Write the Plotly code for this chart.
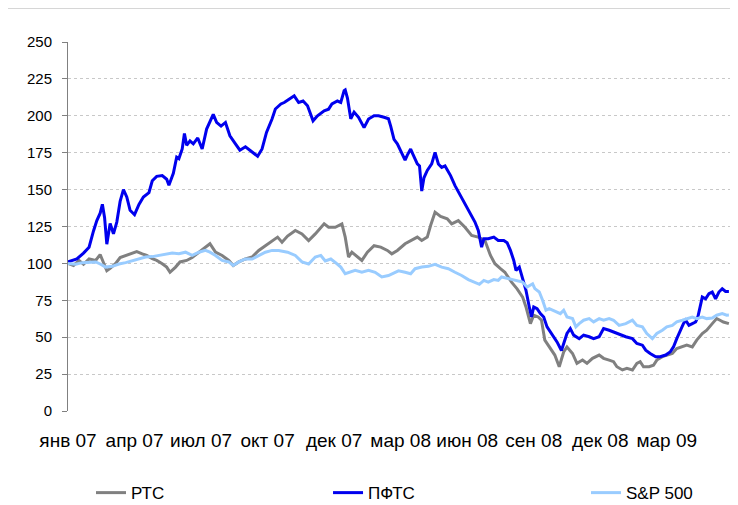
import plotly.graph_objects as go

# Trading-day index (category position) and indexed values (start = 100)
tick_days = [0, 60, 120, 180, 240, 300, 360, 420, 480, 540]
tick_labels = ["янв 07", "апр 07", "июл 07", "окт 07", "дек 07",
               "мар 08", "июн 08", "сен 08", "дек 08", "мар 09"]

pfts_days = [0, 8, 14, 19, 23, 26, 29, 31, 33, 35, 38, 41, 44, 47, 50, 53, 56, 60, 64, 68,
             73, 76, 80, 85, 89, 91, 95, 98, 100, 103, 105, 107, 110, 113, 117, 121, 125, 131,
             134, 138, 142, 146, 151, 155, 160, 164, 169, 171, 175, 179, 184, 187, 192, 195,
             199, 204, 208, 212, 216, 221, 225, 231, 235, 238, 243, 246, 249, 250, 252, 255,
             258, 262, 267, 271, 276, 280, 285, 289, 291, 294, 297, 300, 304, 306, 309, 311,
             315, 317, 319, 321, 324, 328, 331, 334, 337, 340, 345, 349, 354, 357, 360, 364,
             367, 370, 373, 375, 379, 384, 388, 393, 396, 399, 402, 404, 407, 410, 413, 416,
             418, 420, 423, 426, 429, 432, 437, 441, 445, 447, 450, 453, 456, 461, 465, 470,
             474, 479, 483, 488, 492, 497, 503, 509, 513, 518, 521, 525, 530, 534, 539, 543,
             546, 549, 552, 555, 557, 560, 563, 566, 568, 570, 572, 575, 578, 581, 584, 587,
             590, 593, 596]
pfts_vals = [101, 103, 107, 111, 122, 129, 134, 140, 131, 113, 127, 120, 128, 142, 150, 145,
             136, 133, 140, 145, 148, 156, 159, 159.5, 157, 153, 161, 172, 171, 177.5, 188,
             180, 183, 181, 185, 177.5, 191, 201, 195.5, 193, 195.5, 186.5, 181, 176.7, 179,
             176.7, 173.4, 172.6, 177.5, 188.7, 197.8, 204.6, 208, 209, 211, 213.5, 209, 210,
             206.8, 196.6, 200, 203.4, 204.5, 208, 210, 209, 217, 217.5, 212, 198, 202.5, 199,
             192, 197.8, 200, 200, 199, 198, 193, 184, 181, 176.7, 170, 173.4, 177.5, 174,
             167.4, 166, 149, 158, 163, 167.4, 175.2, 167.4, 165, 166, 159.5, 152.7, 146,
             141.4, 138, 132.4, 128, 122.3, 111, 116.7, 116.7, 117.8, 115.5, 115.5, 114,
             108.8, 102, 95.3, 97.5, 89.7, 81.8, 70.5, 63.7, 70.5, 69.4, 66, 63.7, 57, 51.4,
             46.8, 41, 45.7, 52.5, 55.8, 51.4, 49, 51.4, 50.3, 49, 50.3, 55.8, 54.7, 53.5,
             52.4, 50.3, 49, 45.7, 44.6, 41.2, 39, 36.8, 36.8, 37.9, 40, 43.4, 49, 54.7, 59.2,
             61.5, 58, 59.2, 60.3, 63.7, 70.5, 77.2, 76, 79.5, 80.6, 76, 80.6, 82.8, 81, 81]

rts_days = [0, 5, 10, 14, 19, 25, 29, 32, 35, 38, 43, 47, 52, 56, 62, 67, 71, 76, 80, 85, 89,
            92, 95, 97, 101, 107, 112, 118, 124, 128, 133, 139, 145, 149, 154, 160, 166, 172,
            178, 184, 189, 193, 198, 205, 211, 217, 223, 231, 235, 241, 247, 250, 253, 256,
            261, 265, 270, 276, 282, 288, 292, 297, 304, 310, 315, 319, 324, 327, 331, 336,
            342, 346, 352, 358, 364, 370, 376, 381, 385, 390, 394, 400, 405, 410, 413, 417,
            420, 424, 427, 430, 435, 439, 443, 447, 450, 455, 459, 464, 468, 473, 479, 483,
            488, 492, 495, 500, 504, 509, 513, 516, 519, 524, 528, 531, 536, 540, 545, 549,
            554, 558, 563, 567, 572, 576, 581, 585, 588, 591, 596]
rts_vals = [100, 98.6, 102, 99.4, 103, 102, 106, 100.5, 95, 96.6, 100, 104, 105.4, 106.5, 108,
            106.5, 105.4, 103.2, 102, 99.8, 97.5, 94, 96, 97.5, 101, 102, 104, 107.6, 111,
            113.3, 107.6, 105.4, 102, 98.6, 101, 103, 104.3, 108.8, 112, 115.5, 117.8, 114.4,
            118.5, 122.3, 120, 115.5, 120, 126.8, 124.5, 124.5, 126.8, 117.8, 104.3, 107.6,
            104.3, 102, 107.6, 112, 111, 108.8, 106.5, 108.8, 113.3, 115.5, 117.8, 115.5,
            117.8, 125.7, 134.7, 131.8, 130.2, 126.8, 129, 124.5, 119, 117.8, 115.5, 105.4,
            99.8, 96.4, 94, 87.3, 82.8, 77.2, 70.5, 59.2, 64.9, 63.7, 61.5, 48, 42.3, 37.9,
            30, 40, 43.4, 39, 32.3, 34.5, 32.3, 35.7, 37.9, 35.7, 34.5, 33.4, 30, 27.8, 28.9,
            27.8, 32.3, 33.4, 30, 30, 31, 34.5, 36.8, 37.9, 39, 42.3, 43.4, 44.6, 43.4, 48,
            52.5, 54.7, 59.2, 62.6, 61.5, 60.3, 59.2]

sp_days = [0, 7, 13, 19, 25, 29, 34, 40, 46, 52, 58, 64, 70, 76, 82, 88, 94, 100, 106, 112,
           118, 124, 128, 133, 139, 145, 149, 154, 160, 166, 172, 178, 184, 190, 198, 205, 211,
           217, 223, 228, 232, 237, 241, 246, 250, 255, 259, 265, 271, 277, 283, 289, 295,
           298, 304, 309, 313, 319, 325, 331, 337, 343, 349, 355, 361, 367, 371, 375, 379, 384,
           388, 391, 397, 403, 410, 414, 419, 421, 425, 428, 431, 434, 437, 440, 444, 447,
           450, 455, 458, 461, 465, 470, 474, 479, 483, 488, 492, 497, 503, 509, 513, 518,
           522, 527, 531, 536, 540, 545, 549, 554, 558, 563, 567, 572, 576, 581, 585, 590, 594,
           596]
sp_vals = [100, 99.4, 100.5, 100.5, 101, 99.6, 97.5, 98, 99.6, 100.5, 101.6, 103, 104.3,
           104.6, 105.4, 106, 107, 106.5, 107.6, 105.4, 107.6, 108.8, 107.6, 105.4, 102, 101,
           98.6, 101, 103, 103, 105.4, 107.6, 108.8, 108.8, 107.6, 105.4, 101, 99.6, 104.3,
           105.4, 101.7, 103, 100.7, 97.5, 93, 94, 95.3, 94, 95.3, 94, 90.8, 91.8, 94, 95, 94,
           93, 96.4, 97.5, 98, 99.3, 97.5, 96.4, 94, 91.8, 89, 87.3, 85.8, 88.5, 87.3, 89,
           88.5, 90.8, 89.6, 88.5, 87.3, 84, 86.2, 82.9, 80.6, 75, 68.3, 69.4, 68.3, 67, 66,
           68.3, 63.7, 62.6, 57, 59.2, 61.5, 62.6, 60.4, 62.6, 61.5, 62.6, 61.5, 58, 59.2,
           61.5, 58, 57, 52.5, 49, 52.5, 54.7, 57, 58, 60.4, 61.5, 62.6, 63.7, 62.6, 63.7,
           62.6, 63, 64.9, 66, 64.9, 65]

FONT = "Liberation Sans, Arial, sans-serif"

fig = go.Figure()
fig.add_trace(go.Scatter(x=rts_days, y=rts_vals, mode="lines", name="РТС",
                         line=dict(color="#808080", width=3), legend="legend"))
fig.add_trace(go.Scatter(x=pfts_days, y=pfts_vals, mode="lines", name="ПФТС",
                         line=dict(color="#0000EE", width=3), legend="legend2"))
fig.add_trace(go.Scatter(x=sp_days, y=sp_vals, mode="lines", name="S&P 500",
                         line=dict(color="#99CCFF", width=3), legend="legend3"))

leg_common = dict(orientation="h", xref="container", yref="container",
                  yanchor="middle", y=0.024, xanchor="left",
                  font=dict(family=FONT, size=17, color="#000000"),
                  bgcolor="rgba(0,0,0,0)", borderwidth=0)

# page body has an 8px margin, so the figure is sized to the visible area
fig.update_layout(
    width=730, height=497,
    margin=dict(l=60, r=8, t=34, b=94, autoexpand=False),
    paper_bgcolor="white", plot_bgcolor="white",
    font=dict(family=FONT, size=16, color="#000000"),
    showlegend=True,
    legend=dict(x=0.1137, **leg_common),
    legend2=dict(x=0.4384, **leg_common),
    legend3=dict(x=0.7918, **leg_common),
    xaxis=dict(range=[0, 597], tickmode="array", tickvals=tick_days, ticktext=tick_labels,
               showgrid=False, zeroline=False, showline=False, automargin=False,
               ticks="outside", ticklen=12, tickcolor="rgba(0,0,0,0)",
               tickfont=dict(family=FONT, size=19, color="#000000")),
    yaxis=dict(range=[0, 250], dtick=25, tick0=0, showgrid=True, gridcolor="#C8C8C8",
               griddash="dot", gridwidth=1, zeroline=False, showline=True, automargin=False,
               linecolor="#808080", linewidth=1, ticks="outside", ticklen=5,
               tickcolor="#808080", ticklabelstandoff=7,
               tickfont=dict(family=FONT, size=15, color="#000000")),
    shapes=[dict(type="rect", xref="paper", yref="paper",
                 x0=-0.102, x1=1.009, y0=-0.30, y1=1.092,
                 line=dict(color="#B4B4B4", width=1), fillcolor="rgba(0,0,0,0)",
                 layer="below")],
)

fig.write_html("out.html")
